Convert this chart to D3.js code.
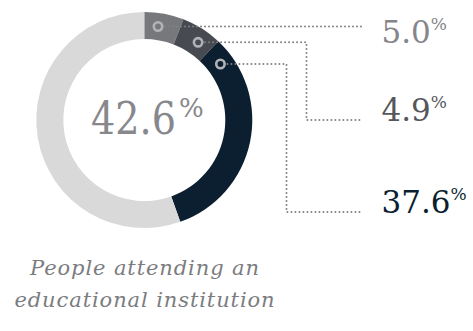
<!DOCTYPE html>
<html>
<head>
<meta charset="utf-8">
<script src="https://cdn.jsdelivr.net/npm/d3@7"></script>
<style>
  body { margin: 0; background: #fff; }
  svg { display: block; }
</style>
</head>
<body>
<svg id="chart" width="473" height="331"></svg>
<script>
// printed shares and the share of the ring each slice takes in the picture
const labels = ["5.0", "4.9", "37.6"];
const arcShares = [5.9, 6.1, 32.6, 55.4];
const colors = ["#77787b", "#474a50", "#0b1f30", "#d9d9d9"];
const labelColors = ["#858689", "#54575c", "#0b1f30"];
const total = "42.6";
const caption = ["People attending an", "educational institution"];

const width = 473, height = 331;
const cx = 144.3, cy = 120;
const outerR = 108, innerR = 81;
const midR = (outerR + innerR) / 2;

// leader line rows and elbows
const lineY = [26.5, 42.3, 64];
const labelY = [42.5, 120, 212];
const elbowX = [null, 306.5, 286.5];
const lineEnd = 361.5;
const labelX = 381.5;

const svg = d3.select("#chart");

const pie = d3.pie().sort(null).value(d => d);
const arc = d3.arc().innerRadius(innerR).outerRadius(outerR);

const ring = svg.append("g").attr("transform", `translate(${cx},${cy})`);
ring.selectAll("path")
  .data(pie(arcShares))
  .enter().append("path")
  .attr("d", arc)
  .attr("fill", (d, i) => colors[i]);

// dotted leader lines
labels.forEach((label, i) => {
  const y0 = lineY[i] - cy;
  const mx = cx + Math.sqrt(midR * midR - y0 * y0);
  let pts;
  if (elbowX[i] === null) {
    pts = [[mx + 7, lineY[i]], [lineEnd, lineY[i]]];
  } else {
    pts = [[mx + 7, lineY[i]], [elbowX[i], lineY[i]], [elbowX[i], labelY[i]], [lineEnd, labelY[i]]];
  }
  svg.append("path")
    .attr("d", d3.line()(pts))
    .attr("fill", "none")
    .attr("stroke", "#808185")
    .attr("stroke-width", 2)
    .attr("stroke-linecap", "round")
    .attr("stroke-dasharray", "0 4");

  svg.append("circle")
    .attr("cx", mx)
    .attr("cy", lineY[i])
    .attr("r", 4.2)
    .attr("fill", "none")
    .attr("stroke", "#b2b3b7")
    .attr("stroke-width", 2.6);

  const t = svg.append("text")
    .attr("x", labelX)
    .attr("y", labelY[i] + 0.5)
    .attr("fill", labelColors[i])
    .style("font-family", "'DejaVu Serif', serif")
    .style("font-size", "31px");
  t.append("tspan").text(label);
  t.append("tspan").text("%")
    .style("font-size", "17px")
    .attr("dy", -13);
});

// centre value, squeezed sideways to the width of the original lettering
const centre = svg.append("text")
  .attr("fill", "#87888c")
  .style("font-family", "'DejaVu Serif', serif")
  .style("font-size", "45px")
  .text(total);
const sx = 85 / centre.node().getComputedTextLength();
centre.attr("transform", `translate(91,133.5) scale(${sx},1)`);

svg.append("text")
  .attr("x", 179)
  .attr("y", 117)
  .attr("fill", "#87888c")
  .style("font-family", "'DejaVu Serif', serif")
  .style("font-size", "26px")
  .text("%");

// caption
svg.append("g")
  .selectAll("text")
  .data(caption)
  .enter().append("text")
  .attr("x", 145)
  .attr("y", (d, i) => 275 + i * 32)
  .attr("text-anchor", "middle")
  .attr("fill", "#7b7c80")
  .style("font-family", "'DejaVu Serif', serif")
  .style("font-style", "italic")
  .style("font-size", "21px")
  .style("letter-spacing", "0.9px")
  .text(d => d);
</script>
</body>
</html>
